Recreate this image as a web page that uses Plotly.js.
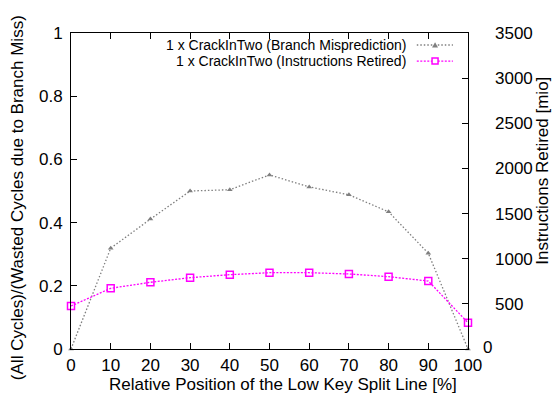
<!DOCTYPE html>
<html>
<head>
<meta charset="utf-8">
<script src="https://cdn.plot.ly/plotly-3.0.1.min.js"></script>
<style>
  html, body { margin: 0; padding: 0; background: #fff; }
  #chart { width: 552px; height: 397px; }
</style>
</head>
<body>
<div id="chart"></div>
<script>
// Split position of the low key (percent)
var splitPos = [0, 10, 20, 30, 40, 50, 60, 70, 80, 90, 100];
// Ratio of wasted cycles due to branch misses (left axis)
var branchMiss = [0, 0.319, 0.411, 0.500, 0.504, 0.551, 0.513, 0.488, 0.434, 0.303, 0];
// Instructions retired in millions (right axis)
var instrRetired = [476, 672, 739, 790, 823, 845, 845, 831, 801, 753, 291];

var seriesNames = [
  '1 x CrackInTwo (Branch Misprediction)',
  '1 x CrackInTwo (Instructions Retired)'
];
var leftTicks = [0, 0.2, 0.4, 0.6, 0.8, 1];
var leftTickText = ['0', '0.2', '0.4', '0.6', '0.8', '1'];
var rightTicks = [0, 500, 1000, 1500, 2000, 2500, 3000, 3500];
var rightTickText = ['', '500', '1000', '1500', '2000', '2500', '3000', '3500'];
var xTicks = [0, 10, 20, 30, 40, 50, 60, 70, 80, 90, 100];

var xTitle = 'Relative Position of the Low Key Split Line [%]';
var yTitle = '(All Cycles)/(Wasted Cycles due to Branch Miss)';
var y2Title = 'Instructions Retired [mio]';

var FONT = 'Liberation Sans, Arial, sans-serif';
var GRAY = '#7f7f7f';
var MAGENTA = '#ff00ff';

var traces = [
  {
    x: splitPos, y: branchMiss, name: seriesNames[0],
    type: 'scatter', mode: 'lines+markers', yaxis: 'y', cliponaxis: false,
    line: { color: GRAY, width: 1.3, dash: '1.5px,2px' },
    marker: { symbol: 'triangle-up', size: 5, color: GRAY }
  },
  {
    x: splitPos, y: instrRetired, name: seriesNames[1],
    type: 'scatter', mode: 'lines+markers', yaxis: 'y2', cliponaxis: false,
    line: { color: MAGENTA, width: 1.3, dash: '2px,1.5px' },
    marker: { symbol: 'square-open', size: 7, color: MAGENTA, line: { width: 1.5, color: MAGENTA } }
  }
];

// Key in the upper right: text right-aligned, sample to its right
var keyTextX = 0.849, keySampleX0 = 0.871, keySampleX1 = 0.962, keyMid = 0.917;
var keyY = [0.962, 0.911];

var annotations = seriesNames.map(function (t, i) {
  return {
    text: t, xref: 'paper', yref: 'paper', x: keyTextX, y: keyY[i],
    xanchor: 'right', yanchor: 'middle', showarrow: false,
    font: { family: FONT, size: 14, color: '#000' }
  };
});
// Axis titles
annotations.push(
  { text: xTitle, xref: 'paper', yref: 'paper', x: 0.534, y: -0.113,
    xanchor: 'center', yanchor: 'middle', showarrow: false, borderpad: 0,
    font: { family: FONT, size: 17, color: '#000' } },
  { text: yTitle, xref: 'paper', yref: 'paper', x: -0.133, y: 0.478, textangle: -90,
    xanchor: 'center', yanchor: 'middle', showarrow: false, borderpad: 0,
    font: { family: FONT, size: 17, color: '#000' } },
  { text: y2Title, xref: 'paper', yref: 'paper', x: 1.187, y: 0.565, textangle: -90,
    xanchor: 'center', yanchor: 'middle', showarrow: false, borderpad: 0,
    font: { family: FONT, size: 17, color: '#000' } },
  // zero label of the right axis sits slightly left and up of the others
  { text: '0', xref: 'paper', yref: 'y2', x: 1.05, y: 15,
    xanchor: 'center', yanchor: 'middle', showarrow: false, borderpad: 0,
    font: { family: FONT, size: 17, color: '#000' } }
);

var layout = {
  width: 552, height: 397,
  margin: { l: 71, r: 84, t: 33, b: 48 },
  paper_bgcolor: '#fff', plot_bgcolor: '#fff',
  showlegend: false,
  font: { family: FONT, size: 17, color: '#000' },
  xaxis: {
    range: [0, 100], tickvals: xTicks, ticks: 'inside', ticklen: 6, tickcolor: '#000',
    showline: true, linecolor: '#000', linewidth: 1, mirror: 'ticks',
    showgrid: false, zeroline: false, ticklabelstandoff: 1,
    tickfont: { size: 17 }
  },
  yaxis: {
    range: [0, 1], tickvals: leftTicks, ticktext: leftTickText, ticks: 'inside', ticklen: 6, tickcolor: '#000',
    showline: true, linecolor: '#000', linewidth: 1, mirror: true,
    showgrid: false, zeroline: false, ticklabelstandoff: 4,
    tickfont: { size: 17 }
  },
  yaxis2: {
    range: [0, 3500], tickvals: rightTicks, ticktext: rightTickText, overlaying: 'y', side: 'right',
    ticks: 'inside', ticklen: 6, tickcolor: '#000',
    showline: false, showgrid: false, zeroline: false, ticklabelstandoff: 26,
    tickfont: { size: 17 }
  },
  annotations: annotations,
  shapes: [
    { type: 'line', xref: 'paper', yref: 'paper', x0: keySampleX0, x1: keySampleX1, y0: keyY[0], y1: keyY[0],
      line: { color: GRAY, width: 1.3, dash: '1.5px,2px' } },
    { type: 'path', xref: 'paper', yref: 'paper', xsizemode: 'pixel', ysizemode: 'pixel',
      xanchor: keyMid, yanchor: keyY[0], path: 'M -3,-2.5 L 3,-2.5 L 0,2.8 Z',
      fillcolor: GRAY, line: { width: 0 } },
    { type: 'line', xref: 'paper', yref: 'paper', x0: keySampleX0, x1: keySampleX1, y0: keyY[1], y1: keyY[1],
      line: { color: MAGENTA, width: 1.3, dash: '2px,1.5px' } },
    { type: 'rect', xref: 'paper', yref: 'paper', xsizemode: 'pixel', ysizemode: 'pixel',
      xanchor: keyMid, yanchor: keyY[1], x0: -3, x1: 3, y0: -3, y1: 3,
      fillcolor: '#fff', line: { color: MAGENTA, width: 1.5 } }
  ]
};

Plotly.newPlot('chart', traces, layout, { displayModeBar: false, staticPlot: true });
</script>
</body>
</html>
